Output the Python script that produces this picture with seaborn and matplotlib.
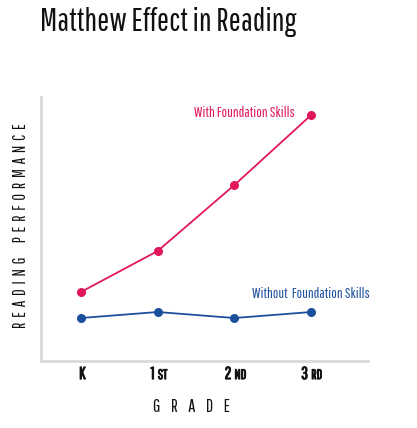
import pandas as pd
import numpy as np
import matplotlib
matplotlib.use("Agg")
import matplotlib.pyplot as plt
import matplotlib.transforms as mtransforms
import matplotlib.patheffects as pe
import seaborn as sns

# grades and readings (performance units)
grades = ["K", "1", "2", "3"]
grade_suffix = ["", "ST", "ND", "RD"]
with_skills = [69, 110, 176, 246]
without_skills = [43, 49, 43, 49]
series_names = ["With Foundation Skills", "Without  Foundation Skills"]

RED = "#E2175A"
BLUE = "#1C4F9C"
INK = "#111111"
FONT = ["Pathway Gothic One", "DejaVu Sans"]

sns.set_style("white")
plt.rcParams["font.family"] = FONT

df = pd.DataFrame({
    "grade": list(range(len(grades))) * 2,
    "performance": with_skills + without_skills,
    "group": [series_names[0]] * len(grades) + [series_names[1]] * len(grades),
})

fig = plt.figure(figsize=(4.17, 4.28), dpi=100)
ax = fig.add_axes([0.0983, 0.1565, 0.7842, 0.6169])

sns.lineplot(data=df, x="grade", y="performance", hue="group",
             palette=[RED, BLUE], marker="o", markersize=6.5,
             markeredgewidth=0, linewidth=1.3, legend=False, ax=ax)

ax.set_xlim(-0.52, 3.74)
ax.set_ylim(0, 264)
ax.set_yticks([])
ax.set_xticks(range(len(grades)))
ax.tick_params(axis="x", direction="in", length=8, width=2, color="#dddddd",
               labelbottom=False)

# grade labels: big number + small caps suffix, baseline aligned
trans = mtransforms.blended_transform_factory(ax.transData, ax.transAxes)
bold = [pe.withStroke(linewidth=0.7, foreground=INK)]
for i, (num, suf) in enumerate(zip(grades, grade_suffix)):
    if suf:
        ax.annotate(num, xy=(i, 0), xycoords=trans, xytext=(-2.2, -13),
                    textcoords="offset points", fontsize=12.5, color=INK,
                    ha="right", va="baseline", path_effects=bold)
        ax.annotate(suf, xy=(i, 0), xycoords=trans, xytext=(0, -13),
                    textcoords="offset points", fontsize=10, color=INK,
                    ha="left", va="baseline", path_effects=bold)
    else:
        ax.annotate(num, xy=(i, 0), xycoords=trans, xytext=(1, -13),
                    textcoords="offset points", fontsize=12.5, color=INK,
                    ha="center", va="baseline", path_effects=bold)

for side in ["top", "right"]:
    ax.spines[side].set_visible(False)
for side in ["left", "bottom"]:
    ax.spines[side].set_color("#d9d9d9")
    ax.spines[side].set_linewidth(2)

ax.set_xlabel("G    R    A    D    E", fontsize=13, color=INK)
ax.xaxis.set_label_coords(0.459, -0.145)
ax.set_ylabel("R  E  A  D  I  N  G      P  E  R  F  O  R  M  A  N  C  E",
              fontsize=12, color=INK)
ax.yaxis.set_label_coords(-0.037, 0.513)

ax.annotate(series_names[0], xy=(3, with_skills[3]), xytext=(-11.5, 1.5),
            textcoords="offset points", color=RED, fontsize=10.5,
            ha="right", va="center")
ax.annotate(series_names[1], xy=(3, without_skills[3]), xytext=(-42.5, 13),
            textcoords="offset points", color=BLUE, fontsize=10.5,
            ha="left", va="center")

fig.text(0.096, 0.948, "Matthew Effect in Reading", fontsize=23,
         color=INK, ha="left", va="center")

fig.savefig("out.png", dpi=100)
